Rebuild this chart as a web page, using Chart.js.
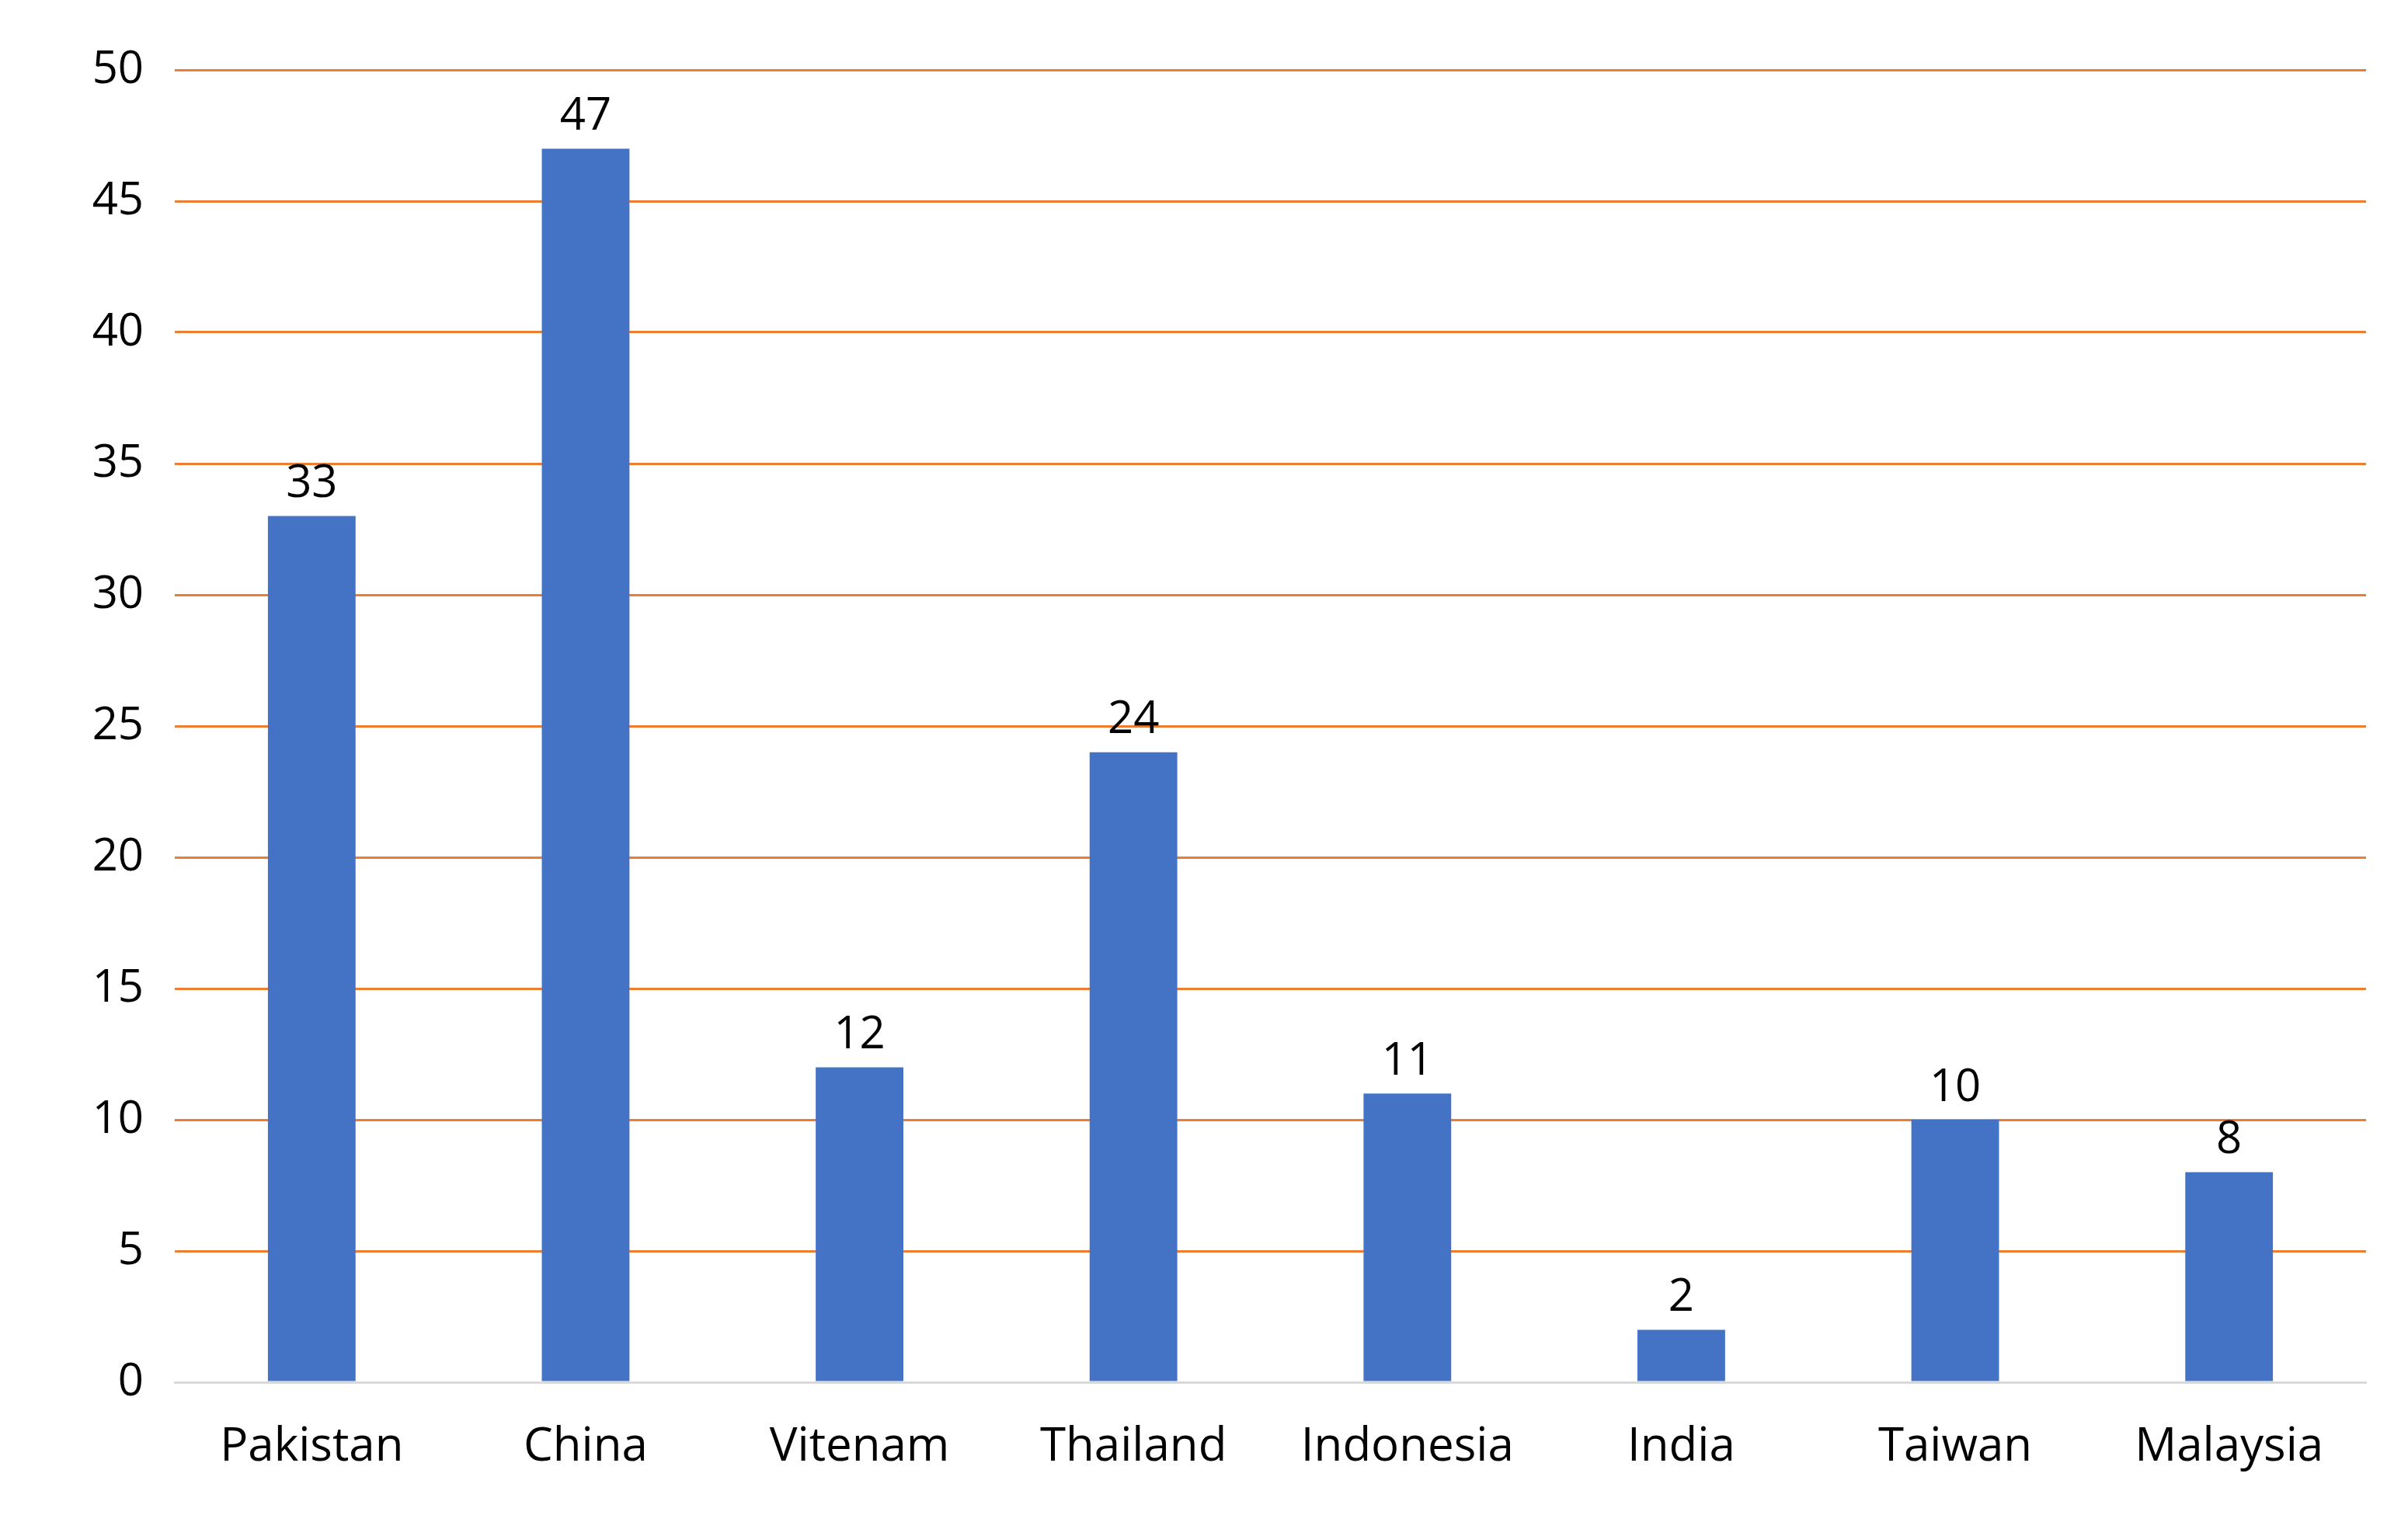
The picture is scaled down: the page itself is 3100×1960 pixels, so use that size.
<!DOCTYPE html>
<html><head><meta charset="utf-8">
<script src="https://cdn.jsdelivr.net/npm/chart.js@4/dist/chart.umd.min.js"></script>
<style>html,body{margin:0;padding:0;background:#fff}#w{width:3100px;height:1960px}</style>
</head><body><div id="w"><canvas id="c" width="3100" height="1960"></canvas></div>
<script>
const categories = ["Pakistan","China","Vitenam","Thailand","Indonesia","India","Taiwan","Malaysia"];
const values = [33,47,12,24,11,2,10,8];
const yTicks = [0,5,10,15,20,25,30,35,40,45,50];

const labelPlugin = {
  id:'barLabels',
  afterDatasetsDraw(chart){
    const ctx = chart.ctx;
    const meta = chart.getDatasetMeta(0);
    ctx.save();
    ctx.font = '58px "Open Sans", sans-serif';
    ctx.fillStyle = '#000';
    ctx.textAlign = 'center';
    ctx.textBaseline = 'bottom';
    meta.data.forEach((bar,i)=>{ ctx.fillText(String(values[i]), bar.x, bar.y - 12); });
    ctx.restore();
  }
};

new Chart(document.getElementById('c'), {
  type:'bar',
  data:{labels:categories, datasets:[{data:values, backgroundColor:'#4472C4', categoryPercentage:0.64, barPercentage:0.5}]},
  options:{
    responsive:false, devicePixelRatio:1, animation:false,
    layout:{padding:{left:40,right:54,top:90,bottom:20}},
    plugins:{legend:{display:false}, tooltip:{enabled:false}},
    scales:{
      x:{grid:{display:false}, border:{color:'#D9D9D9', width:3},
         ticks:{color:'#000', padding:40, font:{size:60, family:'"Open Sans", sans-serif'}}},
      y:{min:0, max:50, grid:{color:'#ED7D31', lineWidth:3, drawTicks:false}, border:{display:false},
         afterFit(s){ s.width = 185; },
         afterBuildTicks(s){ s.ticks = yTicks.map(v=>({value:v})); },
         ticks:{color:'#000', padding:40, font:{size:58, family:'"Open Sans", sans-serif'}}}
    }
  },
  plugins:[labelPlugin]
});
</script></body></html>
